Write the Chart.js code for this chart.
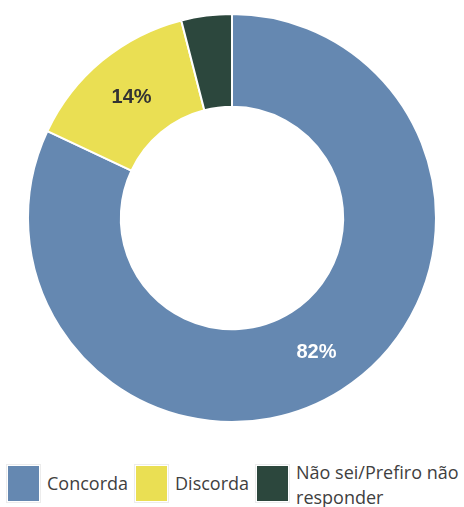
<!DOCTYPE html>
<html>
<head>
<meta charset="utf-8">
<script src="https://cdn.jsdelivr.net/npm/chart.js@4"></script>
<style>
  html, body { margin: 0; padding: 0; background: #fff; }
  #wrap { position: relative; width: 464px; height: 507px; }
  #chart { position: absolute; left: 0; top: 0; }
  #legend {
    position: absolute; left: 8px; top: 466px;
    display: flex; align-items: flex-start;
    font-family: 'Open Sans', sans-serif; font-size: 18px; color: #404040;
  }
  .item { display: flex; align-items: flex-start; margin-right: 8px; }
  .box { width: 31px; height: 35px; outline: 1px solid #ececec; outline-offset: 1px; flex: none; }
  .txt { margin-left: 8px; line-height: 25px; margin-top: 5px; }
  .item.last .txt { margin-top: -6px; width: 168px; }
</style>
</head>
<body>
<div id="wrap">
  <canvas id="chart" width="464" height="440"></canvas>
  <div id="legend"></div>
</div>
<script>
const categories = ['Concorda', 'Discorda', 'Não sei/Prefiro não responder'];
const values = [82, 14, 4];
const labels = ['82%', '14%', ''];
const colors = ['#6588b1', '#eadf53', '#2c473d'];
const labelColors = ['#ffffff', '#333333', '#ffffff'];

const sliceLabels = {
  id: 'sliceLabels',
  afterDatasetsDraw(chart) {
    const ctx = chart.ctx;
    const meta = chart.getDatasetMeta(0);
    ctx.save();
    ctx.font = 'bold 20px "Liberation Sans", Arial, sans-serif';
    ctx.textAlign = 'center';
    ctx.textBaseline = 'middle';
    meta.data.forEach((arc, i) => {
      if (!labels[i]) return;
      const p = arc.tooltipPosition();
      ctx.fillStyle = labelColors[i];
      ctx.fillText(labels[i], p.x, p.y + 1);
    });
    ctx.restore();
  }
};

new Chart(document.getElementById('chart'), {
  type: 'doughnut',
  data: {
    labels: categories,
    datasets: [{
      data: values,
      backgroundColor: colors,
      borderColor: '#ffffff',
      borderWidth: 2,
    }],
  },
  options: {
    responsive: false,
    animation: false,
    cutout: '54.5%',
    layout: { padding: { top: 13, bottom: 17 } },
    plugins: { legend: { display: false }, tooltip: { enabled: false } },
  },
  plugins: [sliceLabels],
});

function renderLegend() {
  const el = document.getElementById('legend');
  categories.forEach((c, i) => {
    const item = document.createElement('div');
    item.className = 'item' + (i === categories.length - 1 ? ' last' : '');
    item.innerHTML = `<div class="box" style="background:${colors[i]}"></div><div class="txt">${c}</div>`;
    el.appendChild(item);
  });
}
renderLegend();
</script>
</body>
</html>
